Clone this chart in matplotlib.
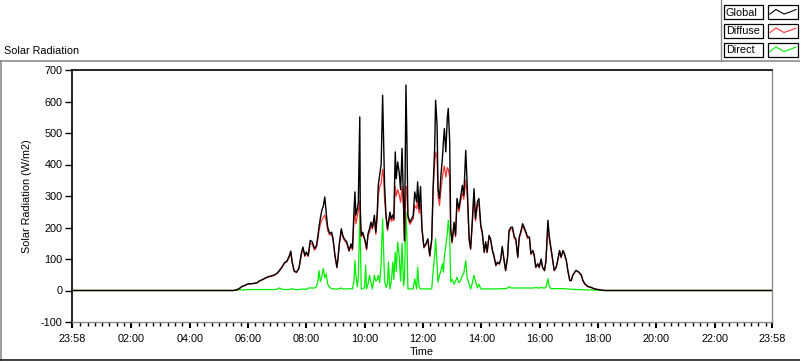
import matplotlib
matplotlib.use("Agg")
import matplotlib.pyplot as plt
from matplotlib.lines import Line2D
from matplotlib.patches import Rectangle

plt.rcParams['font.family'] = ['Liberation Sans', 'DejaVu Sans']
plt.rcParams['axes.unicode_minus'] = False

# sample times (HH:MM); the first one is 23:58 of the previous day
times = [
    "23:58", "05:30", "05:37", "05:42", "05:47", "05:52", "06:00", "06:10", "06:18", "06:23",
    "06:30", "06:36", "06:42", "06:48", "06:55", "07:00", "07:05", "07:10", "07:15", "07:20",
    "07:25", "07:28", "07:31", "07:35", "07:40", "07:45", "07:50", "07:53", "07:57", "08:00",
    "08:04", "08:08", "08:12", "08:17", "08:21", "08:24", "08:26", "08:29", "08:32", "08:35",
    "08:38", "08:41", "08:44", "08:48", "08:52", "08:55", "08:59", "09:03", "09:05", "09:08",
    "09:12", "09:15", "09:18", "09:23", "09:28", "09:32", "09:35", "09:38", "09:40", "09:42",
    "09:45", "09:47", "09:50", "09:51", "09:53", "09:56", "10:00", "10:02", "10:04", "10:07",
    "10:10", "10:13", "10:16", "10:20", "10:23", "10:26", "10:28", "10:31", "10:34", "10:37",
    "10:39", "10:41", "10:44", "10:47", "10:49", "10:52", "10:55", "10:58", "11:00", "11:03",
    "11:05", "11:08", "11:11", "11:14", "11:17", "11:20", "11:22", "11:25", "11:27", "11:29",
    "11:33", "11:37", "11:40", "11:43", "11:47", "11:49", "11:52", "11:55", "11:58", "12:02",
    "12:06", "12:10", "12:14", "12:18", "12:21", "12:24", "12:26", "12:29", "12:31", "12:34",
    "12:37", "12:40", "12:42", "12:44", "12:47", "12:50", "12:52", "12:55", "12:57", "13:00",
    "13:04", "13:07", "13:10", "13:14", "13:17", "13:21", "13:24", "13:28", "13:31", "13:35",
    "13:38", "13:41", "13:45", "13:48", "13:52", "13:55", "13:59", "14:02", "14:06", "14:09",
    "14:12", "14:16", "14:19", "14:23", "14:26", "14:30", "14:33", "14:37", "14:40", "14:43",
    "14:47", "14:50", "14:54", "14:57", "15:01", "15:04", "15:08", "15:11", "15:15", "15:18",
    "15:21", "15:25", "15:28", "15:32", "15:35", "15:39", "15:42", "15:46", "15:49", "15:52",
    "15:56", "15:59", "16:03", "16:06", "16:10", "16:13", "16:17", "16:20", "16:23", "16:27",
    "16:30", "16:34", "16:37", "16:41", "16:44", "16:48", "16:51", "16:55", "16:58", "17:02",
    "17:05", "17:08", "17:12", "17:15", "17:21", "17:26", "17:29", "17:33", "17:39", "17:46",
    "17:53", "18:00", "18:08", "18:15", "23:58",
]

global_rad = [
    0, 0, 2, 6, 12, 15, 21, 22, 24, 30,
    35, 40, 44, 46, 50, 55, 64, 75, 88, 93,
    110, 125, 90, 62, 58, 72, 120, 138, 111, 122,
    111, 159, 155, 133, 143, 175, 201, 230, 255, 268,
    297, 245, 201, 181, 185, 165, 111, 74, 100, 150,
    196, 175, 164, 155, 127, 148, 133, 250, 313, 239,
    260, 281, 551, 260, 175, 185, 164, 150, 133, 180,
    196, 217, 200, 239, 185, 250, 334, 366, 400, 620,
    472, 334, 239, 196, 217, 249, 228, 240, 228, 440,
    355, 408, 376, 320, 451, 281, 159, 652, 472, 239,
    217, 228, 239, 313, 281, 345, 260, 330, 196, 138,
    148, 164, 111, 164, 334, 450, 604, 525, 323, 292,
    366, 420, 472, 514, 440, 546, 578, 472, 196, 155,
    217, 175, 292, 260, 292, 334, 302, 445, 334, 164,
    133, 207, 323, 228, 281, 292, 207, 185, 122, 155,
    122, 175, 164, 127, 111, 80, 90, 85, 100, 140,
    95, 64, 106, 191, 201, 201, 170, 164, 106, 170,
    185, 212, 201, 185, 170, 170, 117, 127, 111, 74,
    85, 74, 100, 74, 64, 95, 223, 170, 138, 95,
    64, 74, 95, 127, 106, 127, 117, 95, 64, 32,
    32, 48, 58, 64, 58, 48, 32, 21, 13, 10,
    5, 3, 1, 0, 0,
]

diffuse_rad = [
    0, 0, 2, 6, 12, 15, 20, 22, 24, 29,
    34, 39, 43, 45, 49, 54, 63, 73, 86, 91,
    106, 120, 88, 60, 57, 70, 115, 132, 108, 118,
    108, 150, 148, 128, 137, 165, 188, 210, 225, 232,
    240, 220, 190, 176, 180, 160, 108, 72, 97, 146,
    190, 170, 160, 150, 124, 144, 128, 222, 255, 212,
    235, 252, 285, 210, 170, 180, 160, 146, 128, 175,
    185, 205, 195, 225, 178, 235, 300, 330, 340, 385,
    360, 290, 230, 190, 210, 235, 220, 228, 222, 330,
    300, 320, 305, 280, 330, 260, 155, 330, 320, 230,
    210, 220, 228, 270, 260, 290, 245, 275, 190, 135,
    145, 160, 108, 158, 320, 400, 440, 420, 300, 270,
    320, 360, 380, 395, 360, 390, 385, 360, 190, 150,
    210, 170, 275, 250, 280, 310, 290, 350, 300, 160,
    130, 200, 300, 220, 270, 275, 200, 180, 120, 150,
    120, 170, 160, 124, 108, 78, 88, 83, 97, 135,
    92, 62, 103, 185, 195, 196, 165, 160, 104, 165,
    180, 205, 195, 180, 165, 166, 114, 124, 108, 72,
    83, 72, 97, 72, 62, 92, 205, 160, 133, 93,
    62, 72, 93, 124, 104, 124, 115, 93, 62, 31,
    31, 47, 57, 63, 57, 47, 31, 20, 12, 9,
    5, 3, 1, 0, 0,
]

direct_rad = [
    0, 0, 1, 2, 2, 2, 3, 3, 3, 3,
    3, 3, 3, 3, 3, 4, 8, 4, 3, 3,
    3, 4, 6, 3, 3, 3, 4, 5, 4, 3,
    8, 8, 8, 8, 12, 31, 63, 28, 45, 70,
    40, 53, 20, 10, 6, 5, 5, 4, 5, 6,
    8, 5, 5, 5, 5, 6, 5, 30, 95, 48,
    12, 40, 239, 175, 5, 5, 10, 80, 5, 20,
    48, 25, 5, 48, 30, 35, 48, 25, 90, 228,
    133, 30, 10, 20, 90, 5, 30, 90, 35, 122,
    60, 154, 111, 30, 150, 15, 40, 249, 170, 5,
    5, 5, 5, 37, 5, 74, 10, 5, 5, 5,
    5, 5, 5, 5, 65, 110, 164, 85, 27, 48,
    64, 85, 58, 106, 143, 180, 223, 175, 27, 35,
    20, 30, 42, 25, 30, 48, 55, 95, 40, 20,
    5, 20, 48, 30, 8, 20, 5, 5, 5, 5,
    5, 5, 5, 5, 5, 5, 5, 5, 6, 6,
    6, 6, 8, 12, 8, 8, 8, 8, 8, 8,
    8, 8, 8, 8, 8, 8, 8, 8, 8, 10,
    8, 8, 10, 8, 8, 10, 37, 12, 6, 6,
    6, 6, 6, 6, 6, 6, 6, 5, 5, 4,
    4, 4, 3, 3, 3, 3, 2, 2, 2, 2,
    1, 1, 0, 0, 0,
]

tick_labels = ["23:58", "02:00", "04:00", "06:00", "08:00", "10:00", "12:00",
               "14:00", "16:00", "18:00", "20:00", "22:00", "23:58"]


def to_minutes(s):
    h, m = s.split(":")
    return int(h) * 60 + int(m)


minutes = [to_minutes(s) for s in times]
minutes[0] -= 1440  # window starts at 23:58 the day before
tick_pos = [to_minutes(s) for s in tick_labels]
tick_pos[0] -= 1440

W, H = 800, 361
fig = plt.figure(figsize=(W / 100, H / 100), dpi=100)
ax = fig.add_axes([72 / W, 1 - 322 / H, 700 / W, 252 / H])

ax.plot(minutes, direct_rad, color='#00ee00', lw=0.9, zorder=2)
ax.plot(minutes, diffuse_rad, color='#ff3535', lw=0.9, zorder=3)
ax.plot(minutes, global_rad, color='black', lw=1.0, zorder=4)

ax.set_xlim(tick_pos[0], tick_pos[-1])
ax.set_ylim(-100, 700)
ax.set_yticks(range(-100, 701, 100))
ax.set_xticks(tick_pos)
ax.set_xticklabels(tick_labels)
ax.set_xticks([m for m in range(0, 1440, 15) if m % 120 != 0], minor=True)
ax.tick_params(axis='both', labelsize=7.8, colors='black')
ax.tick_params(axis='y', length=5, width=1, pad=2)
ax.tick_params(axis='x', which='major', length=4.5, width=1.5, pad=4)
ax.tick_params(axis='x', which='minor', length=3, width=1)

for side in ['left', 'top']:
    ax.spines[side].set_color('black')
    ax.spines[side].set_linewidth(1.2)
for side in ['right', 'bottom']:
    ax.spines[side].set_color('#8c8c8c')
    ax.spines[side].set_linewidth(1.0)

ax.set_ylabel("Solar Radiation (W/m2)", fontsize=7.8, labelpad=6)
ax.set_xlabel("Time", fontsize=7.8, labelpad=2)


def fx(x):
    return x / W


def fy(y):
    return 1 - y / H


# outer frame of the graph panel
fig.add_artist(Line2D([fx(0), fx(W)], [fy(61), fy(61)], color='#8c8c8c', lw=1.2))
fig.add_artist(Line2D([fx(1), fx(1)], [fy(61), fy(360)], color='#8c8c8c', lw=1.2))
fig.add_artist(Line2D([fx(0), fx(W)], [fy(360), fy(360)], color='#202020', lw=1.2))
fig.add_artist(Line2D([fx(721), fx(721)], [fy(0), fy(61)], color='#8c8c8c', lw=1.0))

fig.text(fx(4), fy(51), "Solar Radiation", fontsize=7.8, ha='left', va='center')

# legend boxes
legend_names = ["Global", "Diffuse", "Direct"]
legend_colors = ['black', '#ff3535', '#00ee00']
row_tops = [5, 23.5, 42.5]
for name, col, top in zip(legend_names, legend_colors, row_tops):
    fig.add_artist(Rectangle((fx(724), fy(top + 14)), fx(39), 14 / H,
                             fill=False, edgecolor='black', lw=0.9))
    fig.text(fx(726), fy(top + 7.5), name, fontsize=7.8, ha='left', va='center')
    fig.add_artist(Rectangle((fx(768), fy(top + 14)), fx(30), 14 / H,
                             fill=False, edgecolor='black', lw=0.9))
    zx = [770, 776, 784, 790, 796]
    zy = [top + 9, top + 4.5, top + 9, top + 7, top + 4.5]
    fig.add_artist(Line2D([fx(v) for v in zx], [fy(v) for v in zy], color=col, lw=0.8))

fig.savefig("out.png", dpi=100)
